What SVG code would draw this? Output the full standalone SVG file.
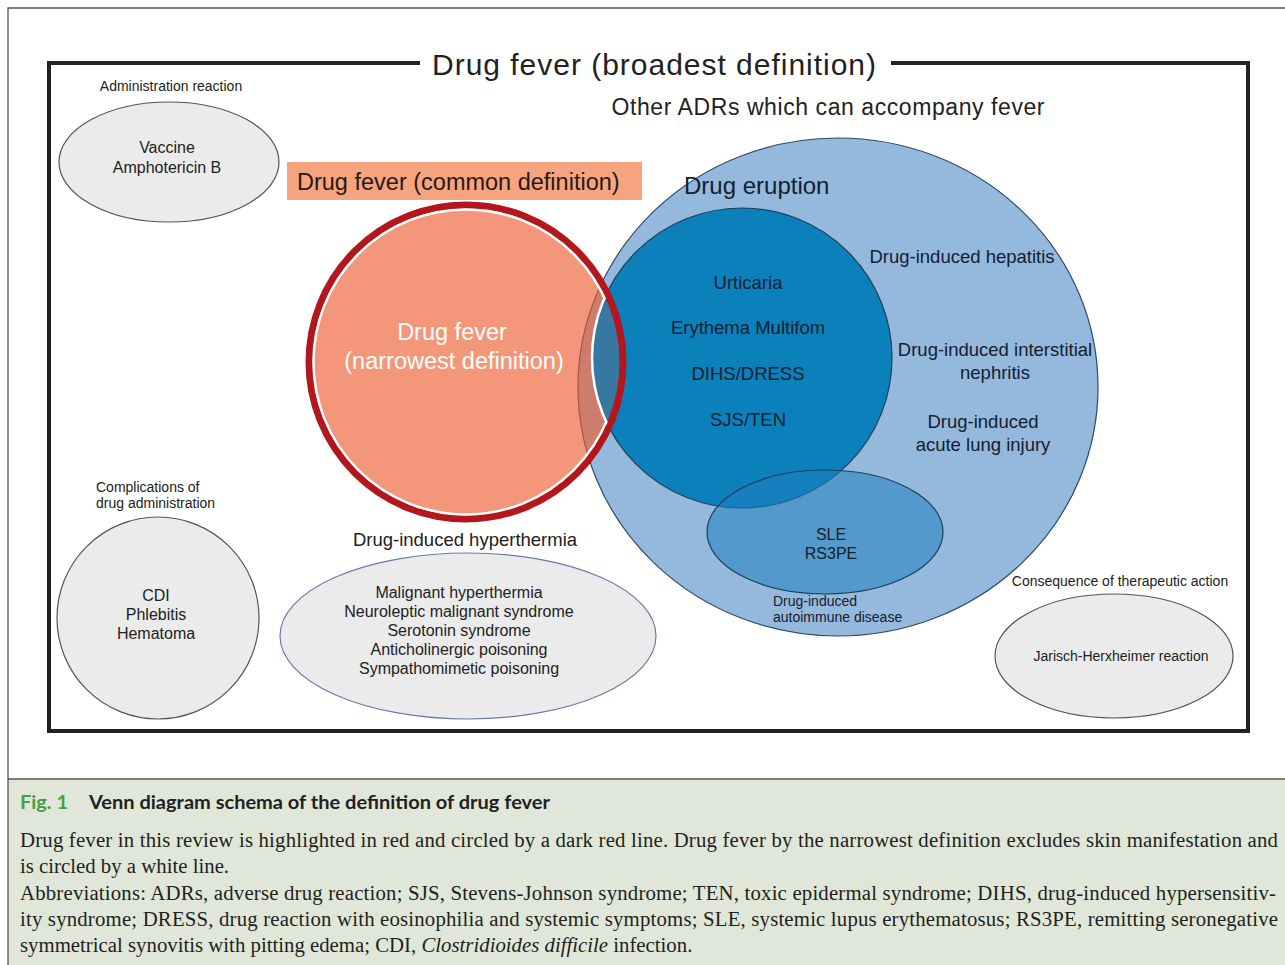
<svg xmlns="http://www.w3.org/2000/svg" width="1285" height="965" viewBox="0 0 1285 965">
<style>
.s{font-family:"Liberation Sans",Arial,sans-serif;fill:#222;}
.c{text-anchor:middle;}
.gray{fill:#ebebeb;stroke:#555;stroke-width:1.2;}
.blk{fill:#13202e;}
.cap{font-family:"Liberation Serif","Times New Roman",serif;font-size:20.8px;fill:#231f20;}
</style>
<defs>
<clipPath id="outDark"><path clip-rule="evenodd" d="M0 0H1285V965H0Z M592 358a150 150 0 1 0 300 0a150 150 0 1 0 -300 0Z"/></clipPath>
<clipPath id="inRed"><circle cx="466" cy="362" r="154"/></clipPath>
<clipPath id="inRedFull"><circle cx="466" cy="362" r="160"/></clipPath>
</defs>
<rect x="0" y="0" width="1285" height="965" fill="#fff"/>
<rect x="8" y="779" width="1290" height="200" fill="#e0e7d8"/>
<path d="M8 1290V8H1290 M8 779V965 M8 779H1285" fill="none" stroke="#555" stroke-width="1.3"/>

<g id="frame">
<path d="M420 63H49V731H1248V63H891" fill="none" stroke="#222" stroke-width="4"/>
<text class="s c" x="654" y="75" font-size="30" textLength="444" lengthAdjust="spacing">Drug fever (broadest definition)</text>
</g>

<g id="other-adrs">
<ellipse cx="838" cy="387" rx="260" ry="249" fill="#95b9dc" stroke="#2f4a66" stroke-width="1.2"/>
<text class="s c" x="828" y="115" font-size="23" textLength="433" lengthAdjust="spacing">Other ADRs which can accompany fever</text>
<text class="s blk" x="684" y="194" font-size="24">Drug eruption</text>
<text class="s c blk" x="962" y="263" font-size="18.5">Drug-induced hepatitis</text>
<text class="s c blk" x="995" y="356" font-size="18.5">Drug-induced interstitial</text>
<text class="s c blk" x="995" y="379" font-size="18.5">nephritis</text>
<text class="s c blk" x="983" y="428" font-size="18.5">Drug-induced</text>
<text class="s c blk" x="983" y="451" font-size="18.5">acute lung injury</text>
</g>

<g id="red-fill">
<circle cx="466" cy="362" r="160" fill="#ee582c" fill-opacity="0.63"/>
</g>

<g id="drug-eruption">
<circle cx="742" cy="358" r="150" fill="#0b80bb" stroke="#1d3d5c" stroke-width="1.2"/>
<circle cx="742" cy="358" r="150" fill="#3778a2" clip-path="url(#inRedFull)"/>
<text class="s c blk" x="748" y="289" font-size="18.5">Urticaria</text>
<text class="s c blk" x="748" y="334" font-size="18.5">Erythema Multifom</text>
<text class="s c blk" x="748" y="380" font-size="18.5">DIHS/DRESS</text>
<text class="s c blk" x="748" y="426" font-size="18.5">SJS/TEN</text>
</g>

<g id="autoimmune">
<ellipse cx="825" cy="532" rx="118" ry="62" fill="#1f7fbf" fill-opacity="0.55" stroke="#1d3d5c" stroke-width="1.2"/>
<text class="s c blk" x="831" y="540" font-size="16">SLE</text>
<text class="s c blk" x="831" y="559" font-size="16">RS3PE</text>
<text class="s blk" x="773" y="606" font-size="14">Drug-induced</text>
<text class="s blk" x="773" y="622" font-size="14">autoimmune disease</text>
</g>

<g id="drug-fever-common">
<circle cx="466" cy="362" r="157" fill="none" stroke="#b3161c" stroke-width="7"/>
<circle cx="466" cy="362" r="152.5" fill="none" stroke="#fff" stroke-width="2.5" clip-path="url(#outDark)"/>
<circle cx="742" cy="358" r="150" fill="none" stroke="#fff" stroke-width="2.5" clip-path="url(#inRed)"/>
<rect x="287" y="162" width="355" height="38" fill="#f5a47f"/>
<text class="s" x="297" y="190" font-size="23.5" style="fill:#2a1812">Drug fever (common definition)</text>
<text class="s c" x="452" y="340" font-size="23.5" style="fill:#fff">Drug fever</text>
<text class="s c" x="454" y="369" font-size="23.5" style="fill:#fff">(narrowest definition)</text>
</g>

<g id="administration">
<text class="s c" x="171" y="91" font-size="14">Administration reaction</text>
<ellipse class="gray" cx="169" cy="162" rx="110" ry="60"/>
<text class="s c" x="167" y="153" font-size="16">Vaccine</text>
<text class="s c" x="167" y="173" font-size="16">Amphotericin B</text>
</g>

<g id="complications">
<text class="s" x="96" y="492" font-size="14">Complications of</text>
<text class="s" x="96" y="508" font-size="14">drug administration</text>
<ellipse class="gray" cx="158" cy="618" rx="101" ry="101"/>
<text class="s c" x="156" y="601" font-size="16">CDI</text>
<text class="s c" x="156" y="620" font-size="16">Phlebitis</text>
<text class="s c" x="156" y="639" font-size="16">Hematoma</text>
</g>

<g id="hyperthermia">
<text class="s c" x="465" y="546" font-size="18.5">Drug-induced hyperthermia</text>
<ellipse cx="468" cy="636" rx="188" ry="83" fill="#ebebeb" stroke="#6b7ba6" stroke-width="1.2"/>
<text class="s c" x="459" y="598" font-size="16">Malignant hyperthermia</text>
<text class="s c" x="459" y="617" font-size="16">Neuroleptic malignant syndrome</text>
<text class="s c" x="459" y="636" font-size="16">Serotonin syndrome</text>
<text class="s c" x="459" y="655" font-size="16">Anticholinergic poisoning</text>
<text class="s c" x="459" y="674" font-size="16">Sympathomimetic poisoning</text>
</g>

<g id="therapeutic">
<text class="s c" x="1120" y="586" font-size="14">Consequence of therapeutic action</text>
<ellipse class="gray" cx="1114" cy="656" rx="119" ry="62"/>
<text class="s c" x="1121" y="661" font-size="14">Jarisch-Herxheimer reaction</text>
</g>

<g id="caption">
<text x="20" y="809" font-family="Lato,'Open Sans',sans-serif" font-weight="700" font-size="18.5" fill="#4a9d45" textLength="48" lengthAdjust="spacingAndGlyphs">Fig. 1</text>
<text x="89" y="809" font-family="Lato,'Open Sans',sans-serif" font-weight="700" font-size="18.5" fill="#231f20" textLength="461" lengthAdjust="spacingAndGlyphs">Venn diagram schema of the definition of drug fever</text>
<text class="cap" x="20" y="847" textLength="1258" lengthAdjust="spacing">Drug fever in this review is highlighted in red and circled by a dark red line. Drug fever by the narrowest definition excludes skin manifestation and</text>
<text class="cap" x="20" y="873">is circled by a white line.</text>
<text class="cap" x="20" y="900" textLength="1256" lengthAdjust="spacing">Abbreviations: ADRs, adverse drug reaction; SJS, Stevens-Johnson syndrome; TEN, toxic epidermal syndrome; DIHS, drug-induced hypersensitiv-</text>
<text class="cap" x="20" y="926" textLength="1258" lengthAdjust="spacing">ity syndrome; DRESS, drug reaction with eosinophilia and systemic symptoms; SLE, systemic lupus erythematosus; RS3PE, remitting seronegative</text>
<text class="cap" x="20" y="952">symmetrical synovitis with pitting edema; CDI, <tspan font-style="italic">Clostridioides difficile</tspan> infection.</text>
</g>
</svg>
